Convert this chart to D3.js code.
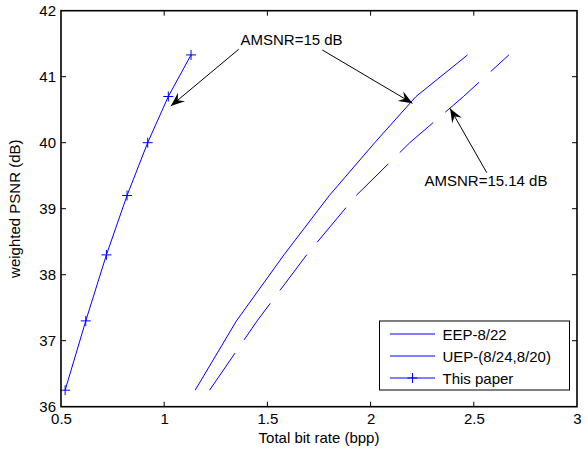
<!DOCTYPE html>
<html lang="en">
<head>
<meta charset="UTF-8">
<title>Weighted PSNR vs total bit rate</title>
<script src="https://cdnjs.cloudflare.com/ajax/libs/d3/7.8.5/d3.min.js"></script>
<style>
    body { margin: 0; padding: 0; background: #fff; }
    svg { display: block; font-family: "Liberation Sans", Arial, sans-serif; }
</style>
</head>
<body>
<div id="chart"></div>
<script>
// values
const psnr = [36.25, 37.3, 38.3, 39.2, 40.0, 40.7, 41.33];
const rateEEP = [1.15, 1.35, 1.58, 1.80, 2.02, 2.22, 2.47];
const rateUEP = [1.22, 1.45, 1.69, 1.93, 2.19, 2.45, 2.67];
const rateOurs = [0.52, 0.62, 0.72, 0.82, 0.92, 1.02, 1.13];

const xTicks = [0.5, 1, 1.5, 2, 2.5, 3];
const yTicks = [36, 37, 38, 39, 40, 41, 42];
const legendLabels = ["EEP-8/22", "UEP-(8/24,8/20)", "This paper"];

// annotations in data units: text point, then arrows [from, to]
const notes = [
    { text: "AMSNR=15 dB", at: [1.617, 41.48],
      arrows: [[[1.361, 41.415], [1.032, 40.556]], [[1.766, 41.405], [2.203, 40.597]]] },
    { text: "AMSNR=15.14 dB", at: [2.559, 39.344],
      arrows: [[[2.563, 39.545], [2.385, 40.52]]] }
];

const width = 586, height = 452;
const margin = { top: 10.7, right: 9, bottom: 45.3, left: 61 };
const blue = "#0000ff";

const svg = d3.select("#chart").append("svg")
    .attr("width", width)
    .attr("height", height);

svg.append("rect").attr("width", width).attr("height", height).attr("fill", "#fff");

const x = d3.scaleLinear().domain([0.5, 3]).range([margin.left, width - margin.right]);
const y = d3.scaleLinear().domain([36, 42]).range([height - margin.bottom, margin.top]);

// axes with inward ticks on all four sides
const tick = 5;
const inner = xTicks.slice(1, -1);
const innerY = yTicks.slice(1, -1);

svg.append("g")
    .attr("transform", `translate(0,${y(36)})`)
    .call(d3.axisBottom(x).tickValues(xTicks).tickSize(0).tickPadding(7).tickFormat(d3.format("")))
    .call(g => g.select(".domain").remove())
    .call(g => g.selectAll("text").attr("font-size", 15).attr("fill", "#000"));

svg.append("g")
    .attr("transform", `translate(${x(0.5)},0)`)
    .call(d3.axisLeft(y).tickValues(yTicks).tickSize(0).tickPadding(5).tickFormat(d3.format("d")))
    .call(g => g.select(".domain").remove())
    .call(g => g.selectAll("text").attr("font-size", 15).attr("fill", "#000"));

const ticks = svg.append("g").attr("stroke", "#000").attr("stroke-width", 1);
inner.forEach(v => {
    ticks.append("line").attr("x1", x(v)).attr("x2", x(v)).attr("y1", y(36)).attr("y2", y(36) - tick);
    ticks.append("line").attr("x1", x(v)).attr("x2", x(v)).attr("y1", y(42)).attr("y2", y(42) + tick);
});
innerY.forEach(v => {
    ticks.append("line").attr("x1", x(0.5)).attr("x2", x(0.5) + tick).attr("y1", y(v)).attr("y2", y(v));
    ticks.append("line").attr("x1", x(3)).attr("x2", x(3) - tick).attr("y1", y(v)).attr("y2", y(v));
});

// axis titles
svg.append("text")
    .attr("x", (x(0.5) + x(3)) / 2)
    .attr("y", 443)
    .attr("text-anchor", "middle")
    .attr("font-size", 15)
    .text("Total bit rate (bpp)");

svg.append("text")
    .attr("transform", `translate(20,${(y(36) + y(42)) / 2}) rotate(-90)`)
    .attr("text-anchor", "middle")
    .attr("font-size", 15)
    .text("weighted PSNR (dB)");

// curves
const line = d3.line().x(d => x(d[0])).y(d => y(d[1]));

svg.append("path")
    .datum(d3.zip(rateEEP, psnr))
    .attr("d", line)
    .attr("fill", "none").attr("stroke", blue).attr("stroke-width", 1);

svg.append("path")
    .datum(d3.zip(rateUEP, psnr))
    .attr("d", line)
    .attr("fill", "none").attr("stroke", blue).attr("stroke-width", 1)
    .attr("stroke-dasharray", "45,16");

svg.append("path")
    .datum(d3.zip(rateOurs, psnr))
    .attr("d", line)
    .attr("fill", "none").attr("stroke", blue).attr("stroke-width", 1);

svg.append("g").selectAll("path")
    .data(d3.zip(rateOurs, psnr))
    .join("path")
    .attr("transform", d => `translate(${x(d[0])},${y(d[1])})`)
    .attr("d", "M-5,0H5M0,-5V5")
    .attr("stroke", blue).attr("stroke-width", 1).attr("fill", "none");

// annotations
function arrowHead(x1, y1, x2, y2) {
    const a = Math.atan2(y2 - y1, x2 - x1);
    const L = 14, W = 5.5, N = 9;
    const pt = (l, w) => [x2 - l * Math.cos(a) - w * Math.sin(a), y2 - l * Math.sin(a) + w * Math.cos(a)];
    const p1 = pt(L, W), p2 = pt(N, 0), p3 = pt(L, -W);
    return `M${x2},${y2}L${p1}L${p2}L${p3}Z`;
}

notes.forEach(n => {
    svg.append("text")
        .attr("x", x(n.at[0]))
        .attr("y", y(n.at[1]))
        .attr("text-anchor", "middle")
        .attr("font-size", 15)
        .text(n.text);
    n.arrows.forEach(([from, to]) => {
        const x1 = x(from[0]), y1 = y(from[1]), x2 = x(to[0]), y2 = y(to[1]);
        svg.append("line")
            .attr("x1", x1).attr("y1", y1).attr("x2", x2).attr("y2", y2)
            .attr("stroke", "#000").attr("stroke-width", 1);
        svg.append("path").attr("d", arrowHead(x1, y1, x2, y2)).attr("fill", "#000");
    });
});

// frame
svg.append("rect")
    .attr("x", x(0.5)).attr("y", y(42))
    .attr("width", x(3) - x(0.5)).attr("height", y(36) - y(42))
    .attr("fill", "none").attr("stroke", "#000").attr("stroke-width", 1.6);

// legend
const lg = svg.append("g").attr("transform", "translate(379.5,321)");
lg.append("rect").attr("width", 190).attr("height", 69)
    .attr("fill", "#fff").attr("stroke", "#000").attr("stroke-width", 1);
legendLabels.forEach((label, i) => {
    const cy = 13 + i * 22;
    lg.append("line").attr("x1", 10.5).attr("x2", 55.5).attr("y1", cy).attr("y2", cy)
        .attr("stroke", blue).attr("stroke-width", 1);
    if (i === 2) {
        lg.append("path").attr("transform", `translate(33,${cy})`)
            .attr("d", "M-5,0H5M0,-5V5").attr("stroke", blue).attr("fill", "none");
    }
    lg.append("text").attr("x", 63).attr("y", cy + 5.5)
        .attr("font-size", 15).text(label);
});
</script>
</body>
</html>
